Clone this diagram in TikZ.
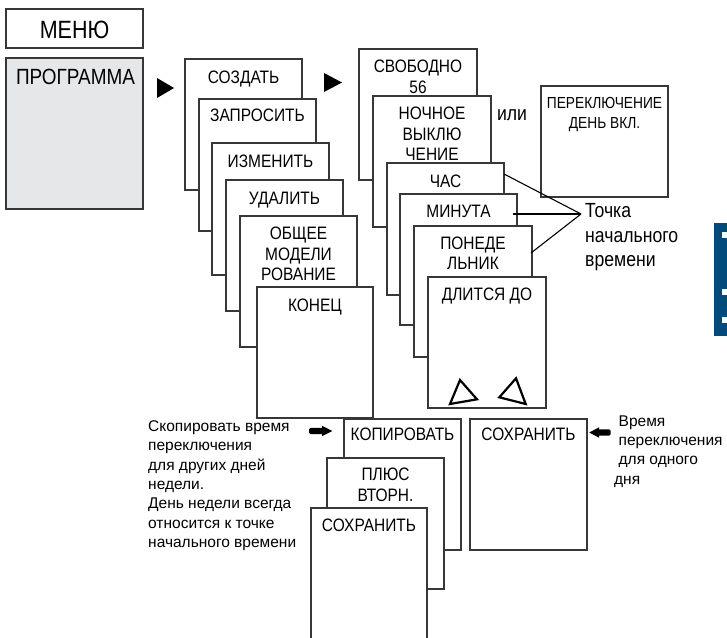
\documentclass[tikz,border=0pt]{standalone}
\usepackage{fontspec}
\setmainfont{Liberation Sans}
\newfontfamily\cf{Liberation Sans}[FakeStretch=0.86]
\definecolor{progfill}{RGB}{230,231,233}
\definecolor{tabblue}{RGB}{0,74,124}
\definecolor{edge}{RGB}{55,55,55}
\begin{document}
\begin{tikzpicture}[x=1pt,y=-1pt]
\tikzset{
 box/.style={draw=edge, line width=1.1pt, fill=white, anchor=north west, inner sep=0pt, outer sep=0pt},
 lbl/.style={font=\cf\fontsize{18}{20.5}\selectfont, inner sep=0pt, anchor=north, align=center},
 desc/.style={font=\fontsize{15.5}{19.3}\selectfont, inner sep=0pt, anchor=north west, align=left},
 big/.style={font=\cf\fontsize{20.5}{24.3}\selectfont, inner sep=0pt},
 conn/.style={draw=black, line width=1.1pt},
 solidtri/.style={fill=black},
 opentri/.style={draw=black, line width=2.2pt, line join=miter},
}
\useasboundingbox (0,0) rectangle (727,637);

% left menu
\node[box, minimum width=137pt, minimum height=39pt] (menu) at (6,9) {};
\node[box, fill=progfill, minimum width=137pt, minimum height=151pt] (prog) at (6,58) {};
\node[lbl, font=\cf\fontsize{25}{28}\selectfont] (tmenu) at (74.5,20.7) {МЕНЮ};
\node[lbl, font=\cf\fontsize{22}{25}\selectfont] (tprog) at (75.5,68.5) {ПРОГРАММА};

% arrows
\path[solidtri] (157,78) -- (157,98) -- (174,88) -- cycle;
\path[solidtri] (324,73) -- (324,92) -- (342,82.5) -- cycle;

% stack 1
\node[box, minimum width=117pt, minimum height=131pt] (sozdat) at (185,59) {};
\node[lbl] (tsozdat) at (243.5,70.7) {СОЗДАТЬ};
\node[box, minimum width=117pt, minimum height=132pt] (zapros) at (199,99) {};
\node[lbl] (tzapros) at (257.5,109) {ЗАПРОСИТЬ};
\node[box, minimum width=117pt, minimum height=132pt] (izmen) at (212,143) {};
\node[lbl] (tizmen) at (270.5,155) {ИЗМЕНИТЬ};
\node[box, minimum width=117pt, minimum height=131pt] (udal) at (226,180) {};
\node[lbl] (tudal) at (284.5,192) {УДАЛИТЬ};
\node[box, minimum width=117pt, minimum height=131pt] (obsh) at (240,216) {};
\node[lbl] (tobsh) at (298.5,227) {ОБЩЕЕ\\МОДЕЛИ\\РОВАНИЕ};
\node[box, minimum width=116pt, minimum height=131pt] (konec) at (257,287) {};
\node[lbl] (tkonec) at (315,299) {КОНЕЦ};

% stack 2
\node[box, minimum width=118pt, minimum height=131pt] (svob) at (359,49) {};
\node[lbl] (tsvob) at (418,60) {СВОБОДНО\\56};
\node[box, minimum width=118pt, minimum height=131pt] (noch) at (373,96) {};
\node[lbl] (tnoch) at (432,107) {НОЧНОЕ\\ВЫКЛЮ\\ЧЕНИЕ};
\node[box, minimum width=117pt, minimum height=132pt] (chas) at (387,163) {};
\node[lbl] (tchas) at (445.5,175) {ЧАС};
\node[box, minimum width=117pt, minimum height=131pt] (minut) at (400,194) {};
\node[lbl] (tminut) at (458.5,205) {МИНУТА};
\node[box, minimum width=118pt, minimum height=131pt] (poned) at (414,226) {};
\node[lbl] (tponed) at (473,236.5) {ПОНЕДЕ\\ЛЬНИК};
\node[box, minimum width=118pt, minimum height=131pt] (dlit) at (428,277) {};
\node[lbl] (tdlit) at (487,287.5) {ДЛИТСЯ ДО};
\draw[opentri] (460,380) -- (450,404) -- (477,399.3) -- cycle;
\draw[opentri] (516,378.3) -- (499.3,397.3) -- (525.7,404) -- cycle;

% alternative
\node[big, anchor=center] (ili) at (512,115) {или};
\node[box, minimum width=127pt, minimum height=111pt] (perekl) at (541,86) {};
\node[lbl, font=\cf\fontsize{16}{20}\selectfont] (tperekl) at (604.5,97) {ПЕРЕКЛЮЧЕНИЕ\\ДЕНЬ ВКЛ.};

% start time note
\node[big, anchor=north west, align=left] (tochka) at (585,203.5) {Точка\\начального\\времени};
\coordinate (tp) at (581,214);
\draw[conn] ([yshift=-11pt]chas.north east) -- (tp);
\draw[conn] ([xshift=-4pt,yshift=-20pt]minut.north east) -- (tp);
\draw[conn] ([xshift=-1pt,yshift=-27pt]poned.north east) -- (tp);

% blue tab at right edge
\fill[tabblue] (714,223) rectangle (730,336);
\fill[white] (722,232) rectangle (730,237.5);
\fill[white] (722,289) rectangle (730,294.5);
\fill[white] (722,317) rectangle (730,322.5);

% bottom
\node[box, minimum width=117pt, minimum height=131pt] (kopir) at (344,419) {};
\node[lbl] (tkopir) at (402.5,428) {КОПИРОВАТЬ};
\node[box, minimum width=117pt, minimum height=131pt] (plus) at (327,458) {};
\node[lbl] (tplus) at (385.5,468) {ПЛЮС\\ВТОРН.};
\node[box, minimum width=116pt, minimum height=140pt] (soxrl) at (311,508) {};
\node[lbl] (tsoxrl) at (369,518.5) {СОХРАНИТЬ};
\node[box, minimum width=117pt, minimum height=131pt] (soxrr) at (470,419) {};
\node[lbl] (tsoxrr) at (528.5,428) {СОХРАНИТЬ};

% fat arrows
\fill[rounded corners=1.5pt] (309,427.8) rectangle (324,434.2);
\fill (322,425.8) -- (332.3,431) -- (322,436.2) -- cycle;
\fill[rounded corners=1.5pt] (597.5,429.3) rectangle (610.7,435.7);
\fill (599,427.3) -- (589.3,432.5) -- (599,437.7) -- cycle;

% descriptions
\node[desc] (dleft) at (148,420.5) {Скопировать время\\переключения\\для других дней\\недели.\\День недели всегда\\относится к точке\\начального времени};
\node[desc] (dright) at (614,415.5) {\hspace{4.5pt}Время\\\hspace{4.5pt}переключения\\\hspace{4.5pt}для одного\\дня};
\end{tikzpicture}
\end{document}
